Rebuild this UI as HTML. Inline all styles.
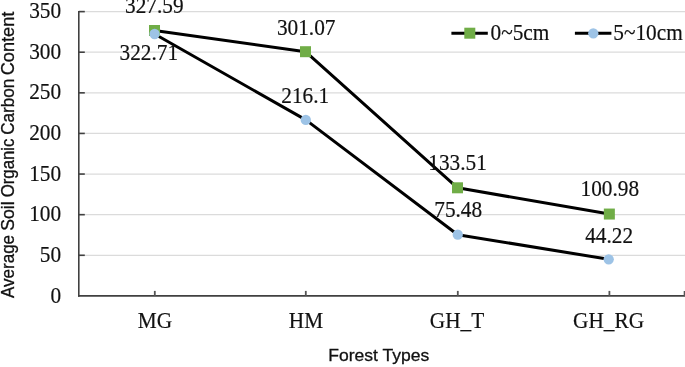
<!DOCTYPE html>
<html lang="en"><head><meta charset="utf-8"><title>Average Soil Organic Carbon Content by Forest Types</title>
<style>html,body{margin:0;padding:0;background:#fff}svg{display:block}</style></head>
<body>
<svg width="685" height="367" viewBox="0 0 685 367">
<rect width="685" height="367" fill="#fff"/>
<line x1="78.8" y1="255.29" x2="685" y2="255.29" stroke="#dbdbdb" stroke-width="1.2"/>
<line x1="78.8" y1="214.67" x2="685" y2="214.67" stroke="#dbdbdb" stroke-width="1.2"/>
<line x1="78.8" y1="174.06" x2="685" y2="174.06" stroke="#dbdbdb" stroke-width="1.2"/>
<line x1="78.8" y1="133.44" x2="685" y2="133.44" stroke="#dbdbdb" stroke-width="1.2"/>
<line x1="78.8" y1="92.83" x2="685" y2="92.83" stroke="#dbdbdb" stroke-width="1.2"/>
<line x1="78.8" y1="52.21" x2="685" y2="52.21" stroke="#dbdbdb" stroke-width="1.2"/>
<line x1="78.8" y1="11.60" x2="685" y2="11.60" stroke="#dbdbdb" stroke-width="1.2"/>
<polyline points="154.50,30.50 305.50,51.70 457.50,187.80 609.35,214.05" fill="none" stroke="#000" stroke-width="3" stroke-linejoin="round"/>
<polyline points="154.60,34.00 305.80,119.90 457.75,234.70 608.70,259.30" fill="none" stroke="#000" stroke-width="3" stroke-linejoin="round"/>
<g stroke="#404040" stroke-width="1.6" fill="none">
<line x1="78.8" y1="10.90" x2="78.8" y2="296.70"/>
<line x1="78.0" y1="295.9" x2="685" y2="295.9"/>
<line x1="78.8" y1="255.29" x2="84.8" y2="255.29"/>
<line x1="78.8" y1="214.67" x2="84.8" y2="214.67"/>
<line x1="78.8" y1="174.06" x2="84.8" y2="174.06"/>
<line x1="78.8" y1="133.44" x2="84.8" y2="133.44"/>
<line x1="78.8" y1="92.83" x2="84.8" y2="92.83"/>
<line x1="78.8" y1="52.21" x2="84.8" y2="52.21"/>
<line x1="78.8" y1="11.60" x2="84.8" y2="11.60"/>
</g>
<g stroke="#555" stroke-width="1.8" fill="none">
<line x1="154.80" y1="295.9" x2="154.80" y2="290.9"/>
<line x1="305.80" y1="295.9" x2="305.80" y2="290.9"/>
<line x1="457.80" y1="295.9" x2="457.80" y2="290.9"/>
<line x1="609.40" y1="295.9" x2="609.40" y2="290.9"/>
<line x1="684.6" y1="295.9" x2="684.6" y2="290.9"/>
</g>
<rect x="149.00" y="25.00" width="11.0" height="11.0" fill="#70ad47"/>
<rect x="300.00" y="46.20" width="11.0" height="11.0" fill="#70ad47"/>
<rect x="452.00" y="182.30" width="11.0" height="11.0" fill="#70ad47"/>
<rect x="603.85" y="208.55" width="11.0" height="11.0" fill="#70ad47"/>
<circle cx="154.60" cy="34.00" r="5.15" fill="#9dc3e6"/>
<circle cx="305.80" cy="119.90" r="5.15" fill="#9dc3e6"/>
<circle cx="457.75" cy="234.70" r="5.15" fill="#9dc3e6"/>
<circle cx="608.70" cy="259.30" r="5.15" fill="#9dc3e6"/>
<line x1="451.4" y1="33.3" x2="487.8" y2="33.3" stroke="#000" stroke-width="3"/>
<rect x="464.30" y="27.70" width="11.0" height="11.0" fill="#70ad47"/>
<line x1="574.9" y1="33.3" x2="611.4" y2="33.3" stroke="#000" stroke-width="3"/>
<circle cx="593.3" cy="33.3" r="5.15" fill="#9dc3e6"/>
<g font-family="'Liberation Serif', serif" font-size="21.3" fill="#111" stroke="#111" stroke-width="0.18">
<text transform="translate(490.50 40.20) scale(1 1.04)" text-anchor="start">0~5cm</text>
<text transform="translate(613.30 40.20) scale(1 1.04)" text-anchor="start">5~10cm</text>
<text transform="translate(61.10 302.50) scale(1 1.04)" text-anchor="end">0</text>
<text transform="translate(61.10 261.89) scale(1 1.04)" text-anchor="end">50</text>
<text transform="translate(61.10 221.27) scale(1 1.04)" text-anchor="end">100</text>
<text transform="translate(61.10 180.66) scale(1 1.04)" text-anchor="end">150</text>
<text transform="translate(61.10 140.04) scale(1 1.04)" text-anchor="end">200</text>
<text transform="translate(61.10 99.43) scale(1 1.04)" text-anchor="end">250</text>
<text transform="translate(61.10 58.81) scale(1 1.04)" text-anchor="end">300</text>
<text transform="translate(61.10 18.20) scale(1 1.04)" text-anchor="end">350</text>
<text transform="translate(154.30 13.30) scale(1 1.04)" text-anchor="middle">327.59</text>
<text transform="translate(148.80 59.60) scale(1 1.04)" text-anchor="middle">322.71</text>
<text transform="translate(306.20 34.70) scale(1 1.04)" text-anchor="middle">301.07</text>
<text transform="translate(305.20 103.30) scale(1 1.04)" text-anchor="middle">216.1</text>
<text transform="translate(457.60 170.30) scale(1 1.04)" text-anchor="middle">133.51</text>
<text transform="translate(458.20 217.20) scale(1 1.04)" text-anchor="middle">75.48</text>
<text transform="translate(609.80 196.40) scale(1 1.04)" text-anchor="middle">100.98</text>
<text transform="translate(609.10 243.00) scale(1 1.04)" text-anchor="middle">44.22</text>
<text transform="translate(154.90 327.80) scale(1 1.04)" text-anchor="middle">MG</text>
<text transform="translate(306.00 327.80) scale(1 1.04)" text-anchor="middle">HM</text>
<text transform="translate(457.00 327.80) scale(1 1.04)" text-anchor="middle">GH_T</text>
<text transform="translate(608.60 327.80) scale(1 1.04)" text-anchor="middle">GH_RG</text>
</g>
<g font-family="'Liberation Sans', sans-serif" fill="#111" stroke="#111" stroke-width="0.3">
<text x="378.8" y="360.9" font-size="16.5" text-anchor="middle" textLength="101" lengthAdjust="spacingAndGlyphs">Forest Types</text>
<text transform="translate(14 0) rotate(-90)" font-size="17.6"><tspan x="-298.1" textLength="63.2" lengthAdjust="spacingAndGlyphs">Average</tspan> <tspan x="-230.8" textLength="29.4" lengthAdjust="spacingAndGlyphs">Soil</tspan> <tspan x="-197.3" textLength="58.7" lengthAdjust="spacingAndGlyphs">Organic</tspan> <tspan x="-134.8" textLength="56.2" lengthAdjust="spacingAndGlyphs">Carbon</tspan> <tspan x="-75.3" textLength="63.7" lengthAdjust="spacingAndGlyphs">Content</tspan></text>
</g>
</svg>
</body></html>
